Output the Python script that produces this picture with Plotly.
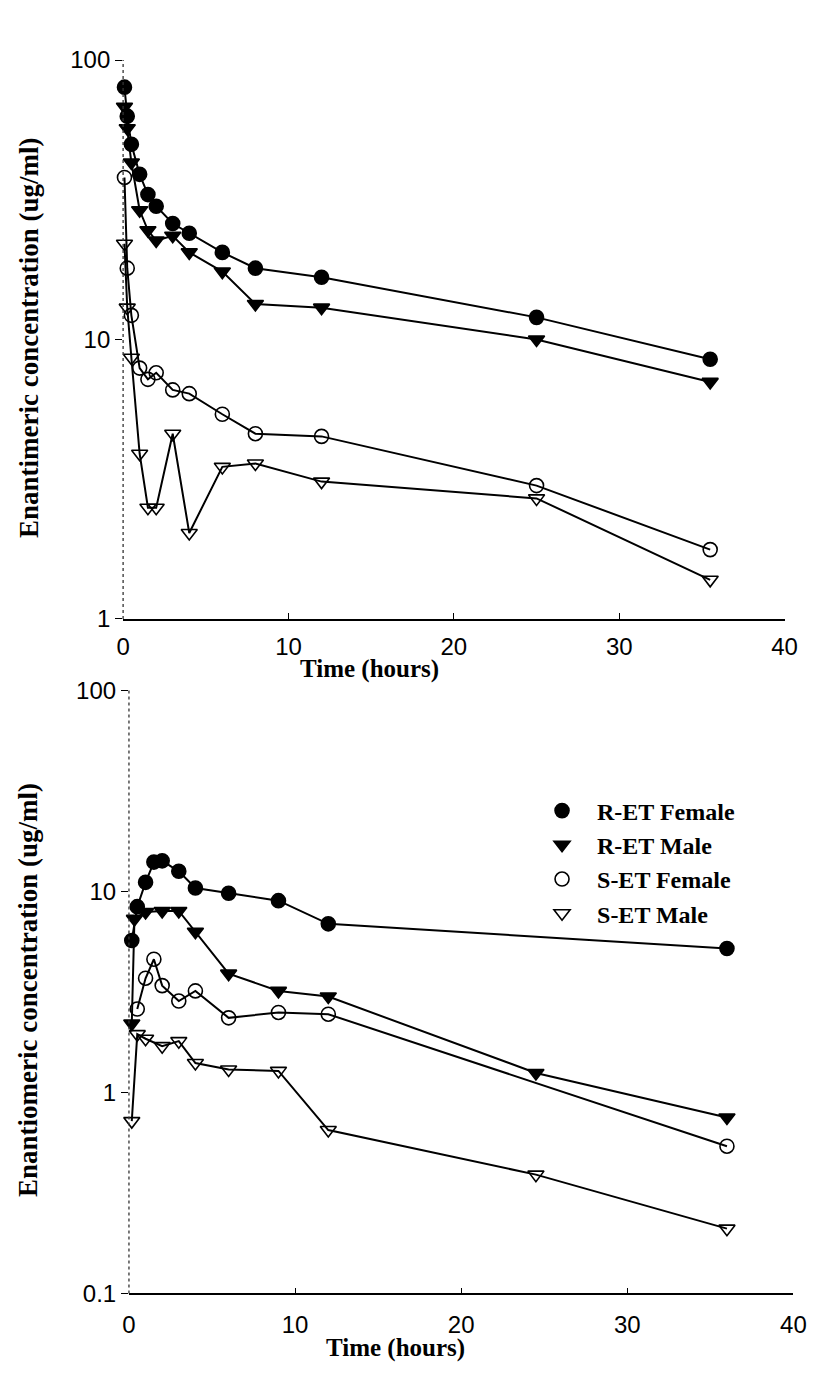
import plotly.graph_objects as go

# ---------------- data ----------------
# Top panel (Enantimeric concentration, ug/ml)
top_t_rf = [0.083, 0.25, 0.5, 1, 1.5, 2, 3, 4, 6, 8, 12, 25, 35.5]
top_c_rf = [80, 63, 50, 39, 33, 30, 26, 24, 20.5, 18, 16.7, 12, 8.5]
top_t_rm = [0.083, 0.25, 0.5, 1, 1.5, 2, 3, 4, 6, 8, 12, 25, 35.5]
top_c_rm = [68, 57, 43, 29, 24.6, 22.6, 23.5, 20.5, 17.5, 13.4, 13.0, 10, 7.05]
top_t_sf = [0.083, 0.25, 0.5, 1, 1.5, 2, 3, 4, 6, 8, 12, 25, 35.5]
top_c_sf = [38, 18, 12.2, 7.9, 7.2, 7.6, 6.6, 6.4, 5.4, 4.6, 4.5, 3.0, 1.77]
top_t_sm = [0.083, 0.25, 0.5, 1, 1.5, 2, 3, 4, 6, 8, 12, 25, 35.5]
top_c_sm = [22, 13, 8.6, 3.9, 2.5, 2.5, 4.6, 2.03, 3.5, 3.6, 3.1, 2.7, 1.38]

# Bottom panel (Enantiomeric concentration, ug/ml)
bot_t_rf = [0.17, 0.5, 1, 1.5, 2, 3, 4, 6, 9, 12, 36]
bot_c_rf = [5.7, 8.4, 11.1, 14.0, 14.2, 12.6, 10.4, 9.8, 9.0, 6.9, 5.2]
bot_t_rm = [0.17, 0.33, 1, 2, 3, 4, 6, 9, 12, 24.5, 36]
bot_c_rm = [2.2, 7.3, 7.9, 8.0, 8.0, 6.3, 3.9, 3.2, 3.0, 1.25, 0.75]
bot_t_sf = [0.5, 1, 1.5, 2, 3, 4, 6, 9, 12, 36]
bot_c_sf = [2.6, 3.7, 4.6, 3.4, 2.85, 3.2, 2.35, 2.5, 2.45, 0.54]
bot_t_sm = [0.17, 0.5, 1, 2, 3, 4, 6, 9, 12, 24.5, 36]
bot_c_sm = [0.72, 1.95, 1.85, 1.7, 1.8, 1.4, 1.3, 1.28, 0.65, 0.39, 0.21]

series_names = ["R-ET Female", "R-ET Male", "S-ET Female", "S-ET Male"]
x_ticks = [0, 10, 20, 30, 40]
top_y_ticks = [1, 10, 100]
bot_y_ticks = [0.1, 1, 10, 100]

# ---------------- style ----------------
W, H = 822, 1377
SANS = "Liberation Sans, Arial, sans-serif"
SERIF = "Liberation Serif, Times New Roman, serif"
symbols = ["circle", "triangle-down", "circle-open", "triangle-down-open"]
msize = 14

fig = go.Figure()

def add_panel(series, xa, ya):
    for (t, c), name, sym in zip(series, series_names, symbols):
        fig.add_trace(go.Scatter(
            x=t, y=c, mode="lines+markers", name=name, showlegend=False,
            xaxis=xa, yaxis=ya, cliponaxis=False,
            line=dict(color="black", width=2),
            marker=dict(symbol=sym, size=msize, color="black",
                        line=dict(color="black", width=1.6)),
        ))

add_panel([(top_t_rf, top_c_rf), (top_t_rm, top_c_rm),
           (top_t_sf, top_c_sf), (top_t_sm, top_c_sm)], "x", "y")
add_panel([(bot_t_rf, bot_c_rf), (bot_t_rm, bot_c_rm),
           (bot_t_sf, bot_c_sf), (bot_t_sm, bot_c_sm)], "x2", "y2")

# legend-only entries (markers only)
for name, sym in zip(series_names, symbols):
    fig.add_trace(go.Scatter(
        x=[None], y=[None], mode="markers", name=name, showlegend=True,
        xaxis="x2", yaxis="y2",
        marker=dict(symbol=sym, size=msize, color="black",
                    line=dict(color="black", width=1.6)),
    ))

def px_x(p):
    return p / W

def px_y(p):
    return 1 - p / H

xaxis_common = dict(
    range=[0, 40], tickmode="array", tickvals=x_ticks,
    ticktext=[str(v) for v in x_ticks],
    ticks="inside", ticklen=6, tickwidth=1, tickcolor="black",
    showline=True, linecolor="black", linewidth=1.5,
    showgrid=False, zeroline=False,
    tickfont=dict(family=SANS, size=24, color="black"),
)
yaxis_common = dict(
    type="log", tickmode="array",
    ticks="outside", ticklen=7, tickwidth=1, tickcolor="black",
    showline=False, showgrid=False, zeroline=False,
    tickfont=dict(family=SANS, size=24, color="black"),
)

fig.update_layout(
    width=W, height=H,
    margin=dict(l=0, r=0, t=0, b=0),
    paper_bgcolor="white", plot_bgcolor="white",
    xaxis=dict(domain=[px_x(119), px_x(797)], anchor="y", ticklabelstandoff=6,
               **xaxis_common),
    yaxis=dict(domain=[px_y(617), px_y(47)], anchor="x", range=[0, 2],
               tickvals=top_y_ticks, ticktext=["1", "10", "100"], **yaxis_common),
    xaxis2=dict(domain=[px_x(125), px_x(806)], anchor="y2", ticklabelstandoff=9,
                **xaxis_common),
    yaxis2=dict(domain=[px_y(1305), px_y(690)], anchor="x2", range=[-1, 2],
                tickvals=bot_y_ticks, ticktext=["0.1", "1", "10", "100"], **yaxis_common),
    showlegend=True,
    legend=dict(
        x=px_x(533), y=px_y(790), xanchor="left", yanchor="top",
        bgcolor="rgba(0,0,0,0)", borderwidth=0, itemwidth=60,
        font=dict(family=SERIF, size=24, color="black", weight="bold"),
        tracegroupgap=0,
    ),
)

# dotted vertical y axis lines
for xr, yr in [("x domain", "y domain"), ("x2 domain", "y2 domain")]:
    fig.add_shape(type="line", xref=xr, yref=yr, x0=0, x1=0, y0=0, y1=1,
                  line=dict(color="#333333", width=1.3, dash="dot"))

# axis titles
xt_font = dict(family=SERIF, size=25, color="black", weight="bold")
yt_font = dict(family=SERIF, size=27, color="black", weight="bold")
fig.add_annotation(text="Time (hours)", x=px_x(372), y=px_y(668), xref="paper", yref="paper",
                   showarrow=False, font=xt_font, xanchor="center", yanchor="middle")
fig.add_annotation(text="Time (hours)", x=px_x(398), y=px_y(1361), xref="paper", yref="paper",
                   showarrow=False, font=xt_font, xanchor="center", yanchor="middle")
fig.add_annotation(text="Enantimeric concentration (ug/ml)", x=px_x(22), y=px_y(330),
                   xref="paper", yref="paper", showarrow=False, textangle=-90,
                   font=yt_font, xanchor="center", yanchor="middle")
fig.add_annotation(text="Enantiomeric concentration (ug/ml)", x=px_x(22), y=px_y(995),
                   xref="paper", yref="paper", showarrow=False, textangle=-90,
                   font=yt_font, xanchor="center", yanchor="middle")

fig.write_html("out.html")
